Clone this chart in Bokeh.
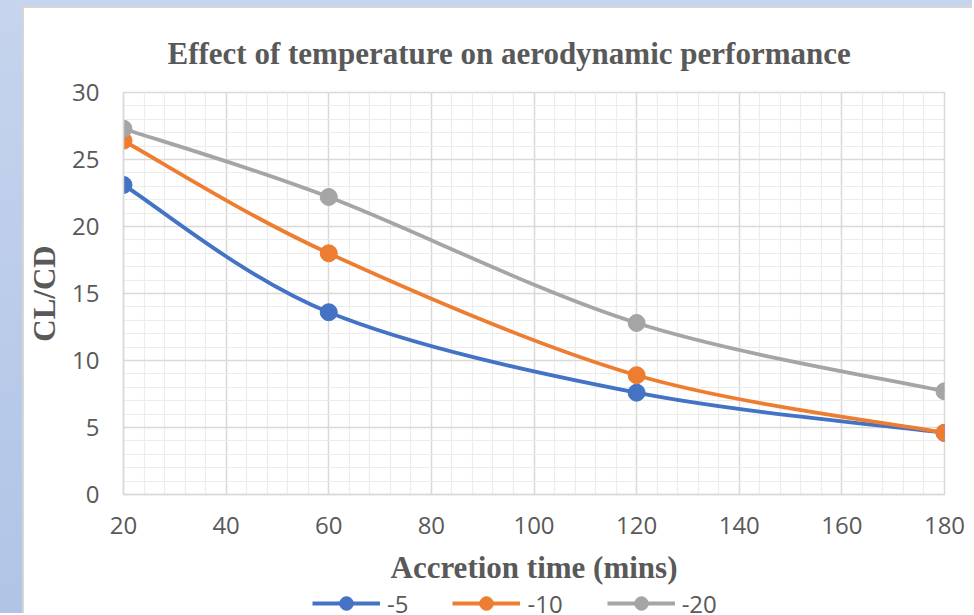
from bokeh.plotting import figure
from bokeh.models import (Legend, LegendItem, ColumnDataSource, SingleIntervalTicker,
                          Range1d)
from bokeh.layouts import column
from bokeh.embed import file_html
from bokeh.resources import INLINE

# ---- data ----
time_mins = [20, 60, 120, 180]
series_names = ["-5", "-10", "-20"]
cl_cd_m5 = [23.1, 13.6, 7.6, 4.6]
cl_cd_m10 = [26.4, 18.0, 8.9, 4.6]
cl_cd_m20 = [27.3, 22.2, 12.8, 7.7]

colors = ["#4472C4", "#ED7D31", "#A5A5A5"]
TEXT = "#595959"
EDGE = "#d6d6d6"


def smooth_segments(xs, ys, t=1.0 / 6.0):
    """Cubic Bezier control points for a smoothed line through the data points."""
    n = len(xs)
    d = dict(x0=[], y0=[], x1=[], y1=[], cx0=[], cy0=[], cx1=[], cy1=[])
    for i in range(n - 1):
        pm = max(i - 1, 0)
        pp = min(i + 2, n - 1)
        d["x0"].append(xs[i]); d["y0"].append(ys[i])
        d["x1"].append(xs[i + 1]); d["y1"].append(ys[i + 1])
        d["cx0"].append(xs[i] + (xs[i + 1] - xs[pm]) * t)
        d["cy0"].append(ys[i] + (ys[i + 1] - ys[pm]) * t)
        d["cx1"].append(xs[i + 1] - (xs[pp] - xs[i]) * t)
        d["cy1"].append(ys[i + 1] - (ys[pp] - ys[i]) * t)
    return d


# ---------------- main chart ----------------
p = figure(width=950, height=580, output_backend="svg", toolbar_location=None,
           x_range=Range1d(20, 180), y_range=Range1d(0, 30),
           min_border_left=99, min_border_right=30, min_border_top=84, min_border_bottom=94,
           border_fill_color="white", background_fill_color="white")

p.title.text = "Effect of temperature on aerodynamic performance"
p.title.align = "left"
p.title.offset = 44
p.title.text_font = "Liberation Serif"
p.title.text_font_size = "31px"
p.title.text_font_style = "bold"
p.title.text_color = TEXT
p.title.standoff = 44

p.outline_line_color = "#d9d9d9"
p.outline_line_width = 1.5

p.xaxis.ticker = SingleIntervalTicker(interval=20, num_minor_ticks=5)
p.yaxis.ticker = SingleIntervalTicker(interval=5, num_minor_ticks=5)
for ax in (p.xaxis, p.yaxis):
    ax.axis_line_color = "#d9d9d9"
    ax.axis_line_width = 1.5
    ax.major_tick_line_color = None
    ax.minor_tick_line_color = None
    ax.major_tick_out = 0
    ax.major_tick_in = 0
    ax.minor_tick_out = 0
    ax.minor_tick_in = 0
    ax.major_label_text_font = "Open Sans"
    ax.major_label_text_font_size = "24px"
    ax.major_label_text_color = TEXT
    ax.axis_label_text_font = "Liberation Serif"
    ax.axis_label_text_font_style = "bold"
    ax.axis_label_text_font_size = "31px"
    ax.axis_label_text_color = TEXT

p.xaxis.axis_label = "Accretion time (mins)"
p.yaxis.axis_label = "CL/CD"
p.xaxis.major_label_standoff = 22
p.yaxis.major_label_standoff = 24
p.xaxis.axis_label_standoff = 13
p.yaxis.axis_label_standoff = 7

for g in (p.xgrid, p.ygrid):
    g.grid_line_color = "#d9d9d9"
    g.grid_line_width = 1.5
    g.minor_grid_line_color = "#ececec"
    g.minor_grid_line_width = 1.2

for name, ys, c in zip(series_names, [cl_cd_m5, cl_cd_m10, cl_cd_m20], colors):
    seg = ColumnDataSource(smooth_segments(time_mins, ys))
    p.bezier(x0="x0", y0="y0", x1="x1", y1="y1", cx0="cx0", cy0="cy0",
             cx1="cx1", cy1="cy1", source=seg, line_color=c, line_width=3.8)
    pts = ColumnDataSource(dict(x=time_mins, y=ys))
    p.scatter(x="x", y="y", source=pts, size=17, fill_color=c, line_color=c)

p.margin = (6, 0, 0, 22)
p.styles = {"border-left": "2px solid " + EDGE, "border-top": "2px solid " + EDGE,
            "background-color": "white"}

# ---------------- legend strip (series drawn out of its view; only the key shows) ----------------
lf = figure(width=950, height=27, output_backend="svg", toolbar_location=None,
            x_range=Range1d(-2, -1), y_range=Range1d(-2, -1),
            min_border_left=0, min_border_right=0, min_border_top=0, min_border_bottom=0,
            border_fill_color="white", background_fill_color="white")
lf.axis.visible = False
lf.grid.visible = False
lf.outline_line_color = None

items = []
for name, ys, c in zip(series_names, [cl_cd_m5, cl_cd_m10, cl_cd_m20], colors):
    src = ColumnDataSource(dict(x=time_mins, y=ys))
    r_line = lf.line(x="x", y="y", source=src, line_color=c, line_width=3.8)
    r_pts = lf.scatter(x="x", y="y", source=src, size=17, fill_color=c, line_color=c)
    items.append(LegendItem(label=name, renderers=[r_line, r_pts]))

legend = Legend(items=items, orientation="horizontal", location=(189, -7),
                glyph_width=68, glyph_height=34, label_standoff=7, spacing=44,
                label_text_font="Open Sans", label_text_font_size="24px",
                label_text_color=TEXT, border_line_color=None,
                background_fill_alpha=0, padding=0, margin=0)
lf.add_layout(legend)
lf.margin = (0, 0, 0, 22)
lf.styles = {"border-left": "2px solid " + EDGE, "background-color": "white"}

page = column(p, lf, styles={"background": "linear-gradient(to bottom, #c6d4ed, #b0c4e6)"})

open("out.html", "w").write(file_html(page, INLINE))
